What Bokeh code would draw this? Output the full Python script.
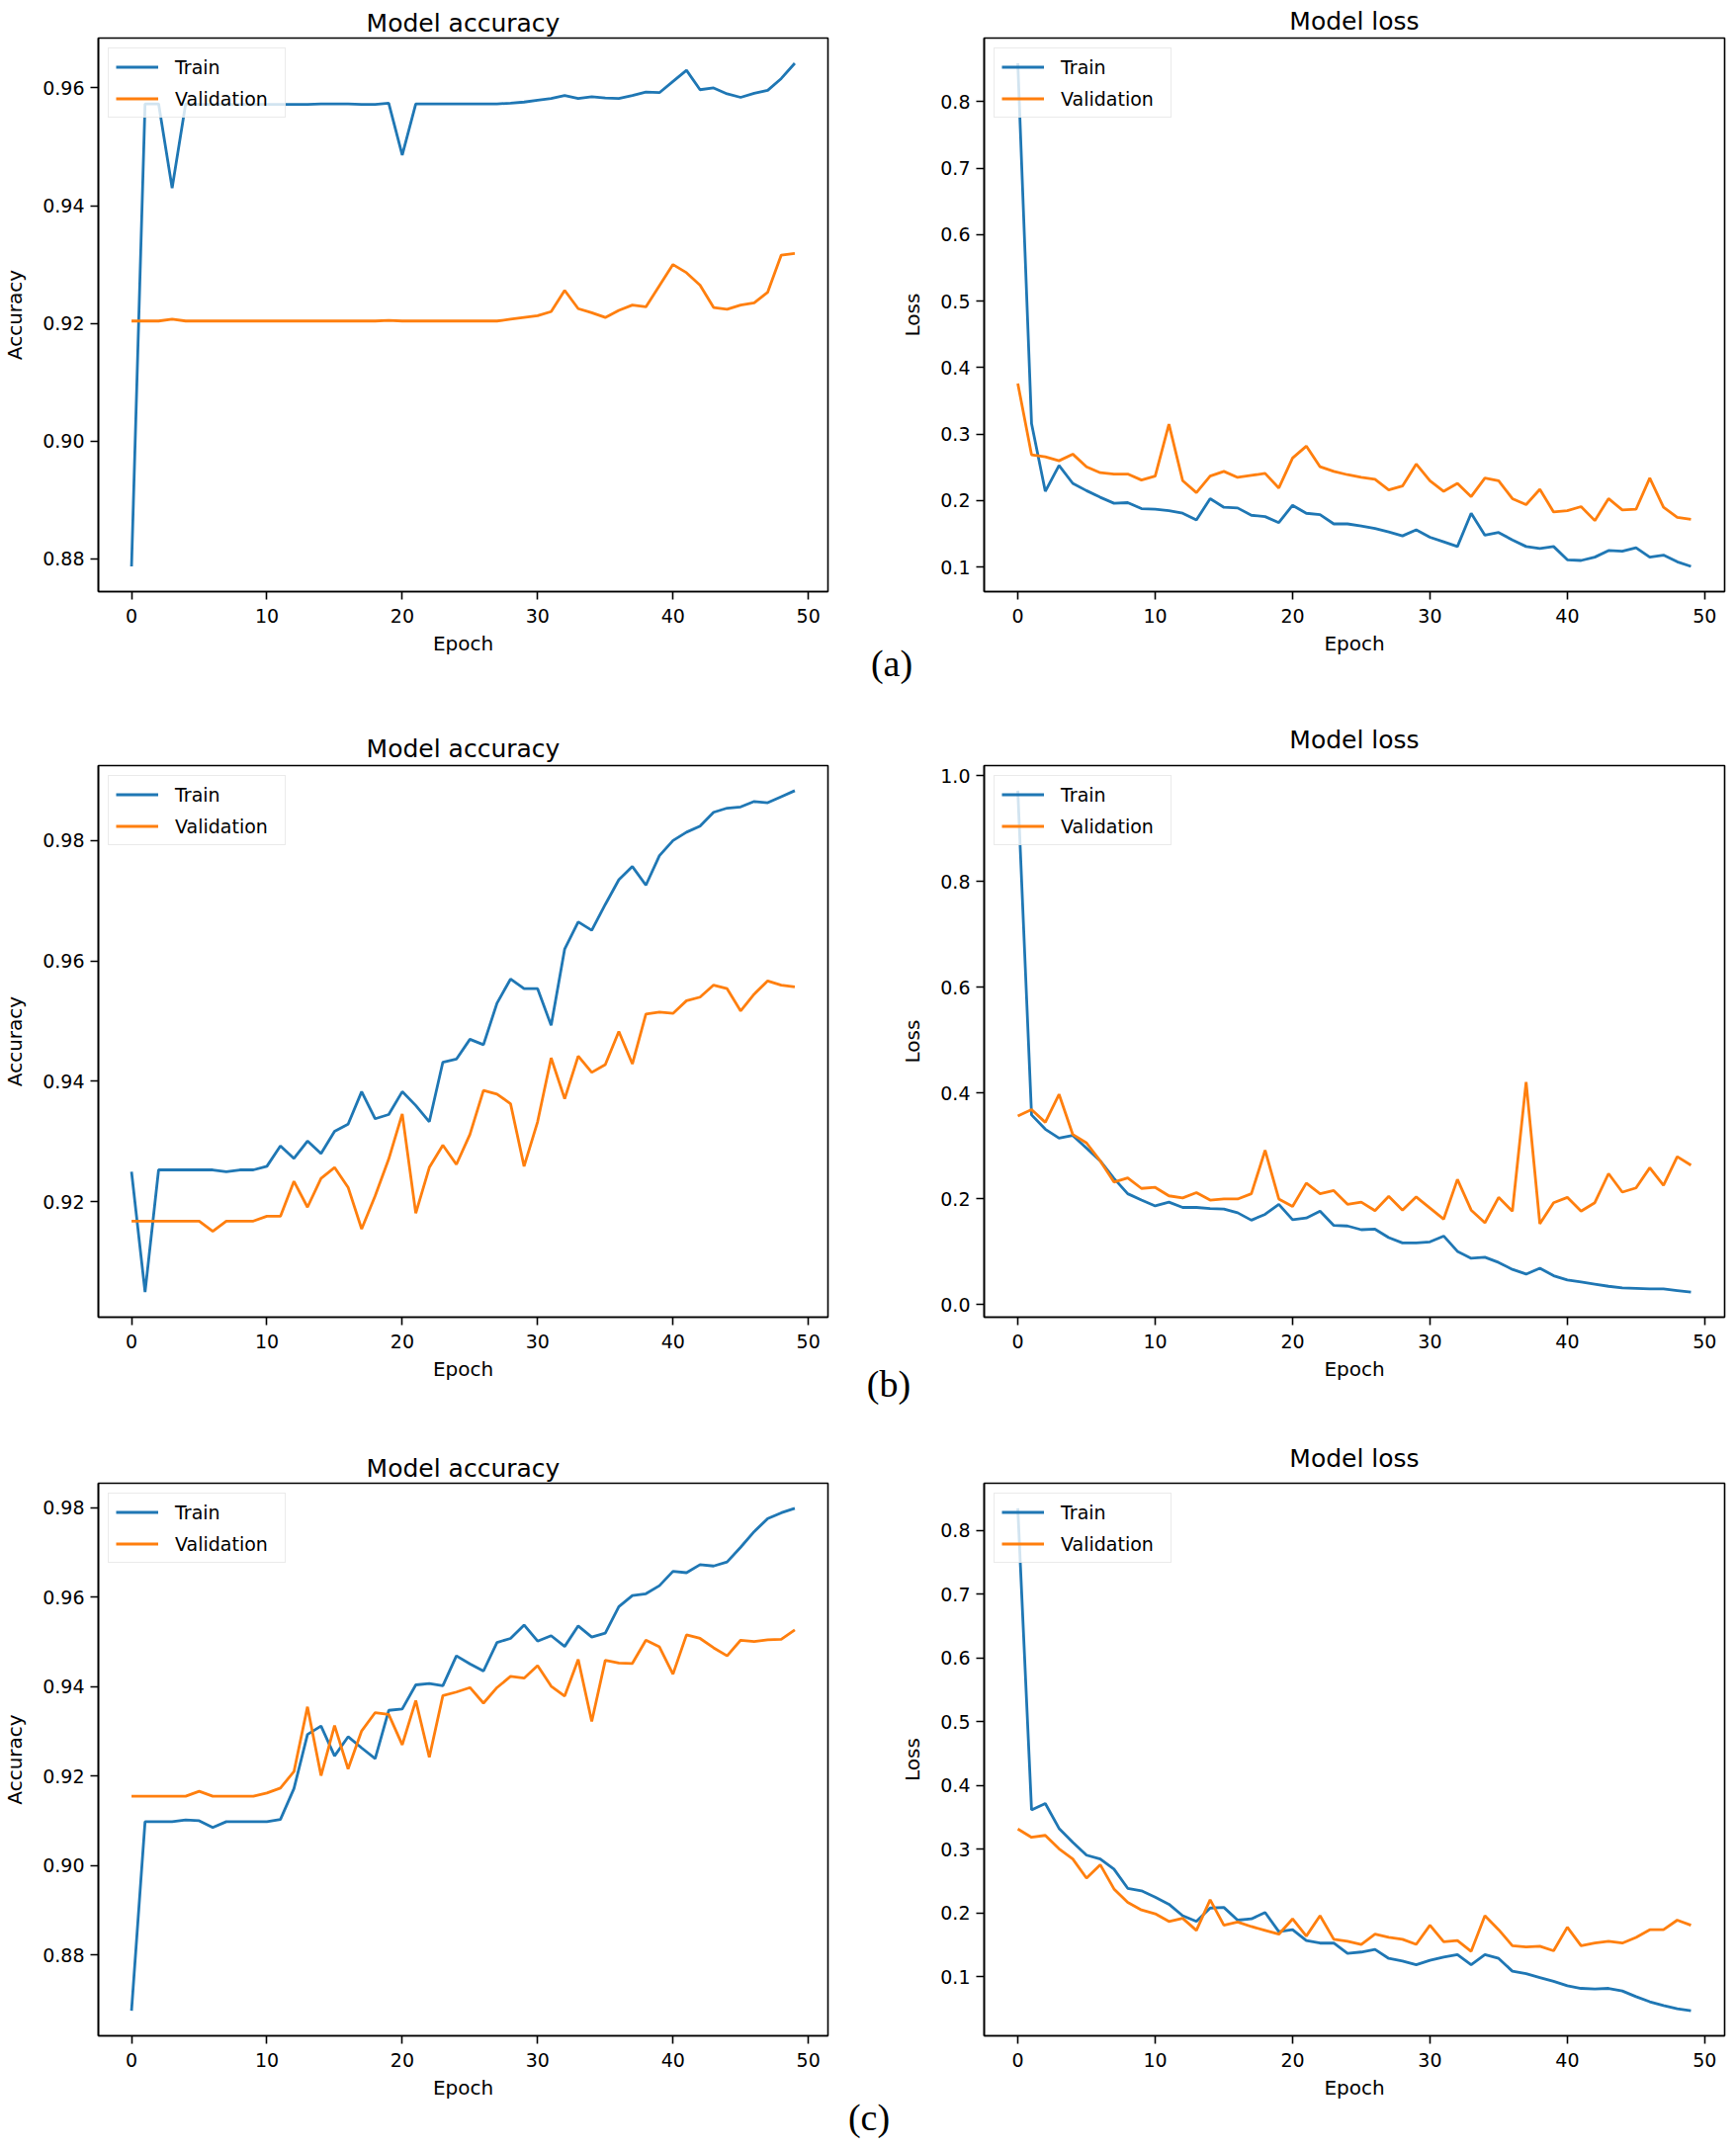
from bokeh.plotting import figure
from bokeh.layouts import row, column
from bokeh.models import Range1d, FixedTicker, NumeralTickFormatter
from bokeh.core.properties import value
from bokeh.embed import file_html
from bokeh.resources import INLINE

epochs = list(range(50))
x_ticks = [0, 10, 20, 30, 40, 50]

# ---- (a) ----
a_acc_train = [0.8787, 0.9573, 0.9573, 0.9430, 0.9573, 0.9572, 0.9572, 0.9572, 0.9572, 0.9572,
               0.9572, 0.9572, 0.9572, 0.9572, 0.9573, 0.9573, 0.9573, 0.9572, 0.9572, 0.9574,
               0.9486, 0.9573, 0.9573, 0.9573, 0.9573, 0.9573, 0.9573, 0.9573, 0.9574, 0.9576,
               0.9579, 0.9582, 0.9587, 0.9582, 0.9585, 0.9583, 0.9582, 0.9587, 0.9593, 0.9592,
               0.9611, 0.9630, 0.9597, 0.9600, 0.9590, 0.9584, 0.9591, 0.9596, 0.9616, 0.9642]
a_acc_val = [0.9204, 0.9204, 0.9204, 0.9207, 0.9204, 0.9204, 0.9204, 0.9204, 0.9204, 0.9204,
             0.9204, 0.9204, 0.9204, 0.9204, 0.9204, 0.9204, 0.9204, 0.9204, 0.9204, 0.9205,
             0.9204, 0.9204, 0.9204, 0.9204, 0.9204, 0.9204, 0.9204, 0.9204, 0.9207, 0.9210,
             0.9213, 0.9220, 0.9256, 0.9225, 0.9218, 0.9210, 0.9222, 0.9231, 0.9228, 0.9264,
             0.9300, 0.9286, 0.9265, 0.9227, 0.9224, 0.9231, 0.9235, 0.9253, 0.9316, 0.9319]
a_loss_train = [0.858, 0.316, 0.214, 0.253, 0.226, 0.215, 0.205, 0.196, 0.197, 0.188,
                0.187, 0.185, 0.181, 0.171, 0.203, 0.190, 0.189, 0.178, 0.176, 0.167,
                0.193, 0.181, 0.179, 0.165, 0.165, 0.162, 0.158, 0.153, 0.147, 0.156,
                0.145, 0.138, 0.131, 0.181, 0.148, 0.152, 0.141, 0.131, 0.128, 0.131,
                0.111, 0.110, 0.115, 0.125, 0.124, 0.129, 0.115, 0.118, 0.108, 0.101]
a_loss_val = [0.376, 0.269, 0.266, 0.260, 0.270, 0.251, 0.242, 0.240, 0.240, 0.231,
              0.237, 0.315, 0.230, 0.212, 0.237, 0.244, 0.235, 0.238, 0.241, 0.219,
              0.264, 0.282, 0.251, 0.244, 0.239, 0.235, 0.232, 0.216, 0.222, 0.255,
              0.230, 0.214, 0.226, 0.206, 0.234, 0.230, 0.203, 0.194, 0.217, 0.183,
              0.185, 0.191, 0.170, 0.203, 0.186, 0.187, 0.234, 0.190, 0.175, 0.172]

# ---- (b) ----
b_acc_train = [0.9250, 0.9050, 0.9253, 0.9253, 0.9253, 0.9253, 0.9253, 0.9250, 0.9253, 0.9253,
               0.9259, 0.9293, 0.9272, 0.9301, 0.9280, 0.9317, 0.9329, 0.9383, 0.9338, 0.9345,
               0.9383, 0.9360, 0.9333, 0.9432, 0.9437, 0.9470, 0.9461, 0.9530, 0.9570, 0.9554,
               0.9554, 0.9493, 0.9620, 0.9665, 0.9651, 0.9694, 0.9735, 0.9757, 0.9726, 0.9775,
               0.9800, 0.9814, 0.9824, 0.9847, 0.9854, 0.9856, 0.9865, 0.9863, 0.9873, 0.9883]
b_acc_val = [0.9168, 0.9168, 0.9168, 0.9168, 0.9168, 0.9168, 0.9151, 0.9168, 0.9168, 0.9168,
             0.9176, 0.9176, 0.9234, 0.9191, 0.9239, 0.9257, 0.9224, 0.9155, 0.9210, 0.9271,
             0.9346, 0.9181, 0.9257, 0.9294, 0.9262, 0.9312, 0.9385, 0.9379, 0.9363, 0.9259,
             0.9333, 0.9439, 0.9371, 0.9442, 0.9415, 0.9428, 0.9483, 0.9429, 0.9512, 0.9515,
             0.9513, 0.9534, 0.9540, 0.9560, 0.9554, 0.9517, 0.9545, 0.9567, 0.9560, 0.9557]
b_loss_train = [0.972, 0.359, 0.332, 0.315, 0.320, 0.296, 0.272, 0.239, 0.210, 0.198,
                0.187, 0.194, 0.184, 0.184, 0.182, 0.181, 0.174, 0.160, 0.171, 0.190,
                0.161, 0.164, 0.177, 0.150, 0.149, 0.142, 0.143, 0.127, 0.117, 0.117,
                0.119, 0.130, 0.101, 0.088, 0.090, 0.080, 0.067, 0.058, 0.069, 0.055,
                0.047, 0.043, 0.039, 0.035, 0.032, 0.031, 0.030, 0.030, 0.027, 0.024]
b_loss_val = [0.357, 0.369, 0.345, 0.398, 0.322, 0.306, 0.272, 0.232, 0.240, 0.220,
              0.222, 0.206, 0.202, 0.212, 0.198, 0.200, 0.200, 0.210, 0.292, 0.200,
              0.186, 0.230, 0.210, 0.216, 0.190, 0.194, 0.178, 0.205, 0.179, 0.204,
              0.183, 0.162, 0.237, 0.179, 0.155, 0.203, 0.177, 0.421, 0.153, 0.193,
              0.203, 0.177, 0.193, 0.248, 0.213, 0.221, 0.259, 0.226, 0.280, 0.264]

# ---- (c) ----
c_acc_train = [0.8675, 0.9098, 0.9098, 0.9098, 0.9102, 0.9100, 0.9085, 0.9098, 0.9098, 0.9098,
               0.9098, 0.9103, 0.9172, 0.9293, 0.9312, 0.9245, 0.9288, 0.9263, 0.9239, 0.9347,
               0.9350, 0.9404, 0.9407, 0.9402, 0.9469, 0.9451, 0.9435, 0.9499, 0.9508, 0.9538,
               0.9502, 0.9514, 0.9490, 0.9536, 0.9511, 0.9520, 0.9579, 0.9604, 0.9608, 0.9626,
               0.9658, 0.9655, 0.9673, 0.9670, 0.9679, 0.9712, 0.9747, 0.9776, 0.9789, 0.9799]
c_acc_val = [0.9155, 0.9155, 0.9155, 0.9155, 0.9155, 0.9166, 0.9155, 0.9155, 0.9155, 0.9155,
             0.9162, 0.9173, 0.9210, 0.9355, 0.9201, 0.9313, 0.9216, 0.9301, 0.9342, 0.9338,
             0.9270, 0.9369, 0.9242, 0.9380, 0.9388, 0.9398, 0.9363, 0.9398, 0.9423, 0.9419,
             0.9447, 0.9401, 0.9379, 0.9461, 0.9322, 0.9459, 0.9453, 0.9452, 0.9504, 0.9489,
             0.9428, 0.9516, 0.9508, 0.9487, 0.9469, 0.9504, 0.9501, 0.9505, 0.9506, 0.9527]
c_loss_train = [0.835, 0.362, 0.372, 0.333, 0.311, 0.291, 0.285, 0.269, 0.239, 0.235,
                0.225, 0.214, 0.196, 0.187, 0.208, 0.209, 0.189, 0.191, 0.201, 0.171,
                0.174, 0.157, 0.153, 0.153, 0.137, 0.139, 0.143, 0.129, 0.125, 0.119,
                0.126, 0.131, 0.135, 0.119, 0.135, 0.129, 0.109, 0.105, 0.099, 0.093,
                0.086, 0.082, 0.081, 0.082, 0.078, 0.069, 0.061, 0.055, 0.050, 0.047]
c_loss_val = [0.332, 0.319, 0.322, 0.301, 0.285, 0.255, 0.276, 0.238, 0.217, 0.205,
              0.199, 0.187, 0.192, 0.173, 0.221, 0.181, 0.186, 0.179, 0.173, 0.167,
              0.191, 0.164, 0.196, 0.159, 0.156, 0.151, 0.167, 0.162, 0.159, 0.151,
              0.181, 0.155, 0.157, 0.140, 0.196, 0.174, 0.149, 0.147, 0.148, 0.141,
              0.178, 0.149, 0.153, 0.156, 0.153, 0.162, 0.174, 0.174, 0.189, 0.181]

acc_ticks_a = [0.88, 0.90, 0.92, 0.94, 0.96]
acc_ticks_b = [0.92, 0.94, 0.96, 0.98]
acc_ticks_c = [0.88, 0.90, 0.92, 0.94, 0.96, 0.98]
loss_ticks_a = [0.1, 0.2, 0.3, 0.4, 0.5, 0.6, 0.7, 0.8]
loss_ticks_b = [0.0, 0.2, 0.4, 0.6, 0.8, 1.0]
loss_ticks_c = [0.1, 0.2, 0.3, 0.4, 0.5, 0.6, 0.7, 0.8]

panel_tags = ["(a)", "(b)", "(c)"]

BLUE = "#1f77b4"
ORANGE = "#ff7f0e"
FONT = "DejaVu Sans"

# layout geometry (pixels)
TOTAL_W = 1748
L_BL, L_FW, L_BR = 82, 738, 40      # left column: 860 wide
R_BL, R_FW, R_BR = 118, 749, 21     # right column: 888 wide
BOTTOM = 74


def make_panel(title, ylabel, train, val, yticks, yfmt,
               bl, fw, br, bt, fh, bb, title_standoff):
    lo = min(min(train), min(val))
    hi = max(max(train), max(val))
    m = 0.05 * (hi - lo)
    xm = 0.05 * (epochs[-1] - epochs[0])
    p = figure(frame_width=fw, frame_height=fh,
               min_border_left=bl, min_border_top=bt,
               min_border_right=br, min_border_bottom=bb,
               x_range=Range1d(epochs[0] - xm, epochs[-1] + xm),
               y_range=Range1d(lo - m, hi + m),
               output_backend="svg", toolbar_location=None, title=title)
    p.title.text_font = FONT
    p.title.text_font_size = "25px"
    p.title.text_font_style = "normal"
    p.title.align = "center"
    p.title.standoff = title_standoff
    p.title.text_color = "black"

    p.line(epochs, train, line_color=BLUE, line_width=2.8, legend_label="Train")
    p.line(epochs, val, line_color=ORANGE, line_width=2.8, legend_label="Validation")

    p.xgrid.visible = False
    p.ygrid.visible = False
    p.outline_line_color = "black"
    p.outline_line_width = 1.6
    p.outline_line_alpha = 1.0
    p.background_fill_color = "white"
    p.border_fill_color = "white"

    p.xaxis.ticker = FixedTicker(ticks=x_ticks)
    p.yaxis.ticker = FixedTicker(ticks=yticks)
    p.yaxis.formatter = NumeralTickFormatter(format=yfmt)
    p.xaxis.axis_label = "Epoch"
    p.yaxis.axis_label = ylabel
    for ax in (p.xaxis[0], p.yaxis[0]):
        ax.major_label_text_font = FONT
        ax.major_label_text_font_size = "19px"
        ax.major_label_text_color = "black"
        ax.axis_label_text_font = FONT
        ax.axis_label_text_font_size = "20px"
        ax.axis_label_text_font_style = "normal"
        ax.axis_label_text_color = "black"
        ax.major_tick_out = 8
        ax.major_tick_in = 0
        ax.minor_tick_out = 0
        ax.minor_tick_in = 0
        ax.major_tick_line_width = 1.6
        ax.major_tick_line_color = "black"
        ax.axis_line_width = 1.6
        ax.axis_line_color = "black"
    p.xaxis.major_label_standoff = 9
    p.yaxis.major_label_standoff = 6
    p.xaxis.axis_label_standoff = 6
    p.yaxis.axis_label_standoff = 13

    lg = p.legend[0]
    lg.location = "top_left"
    lg.margin = 10
    lg.padding = 7
    lg.spacing = 9
    lg.label_height = 23
    lg.glyph_height = 23
    lg.glyph_width = 43
    lg.label_standoff = 17
    lg.label_width = 104
    lg.label_text_font = FONT
    lg.label_text_font_size = "19px"
    lg.label_text_color = "black"
    lg.border_line_color = "#d6d6d6"
    lg.border_line_width = 1.5
    lg.background_fill_color = "white"
    lg.background_fill_alpha = 0.8
    return p


def make_tag_row(text, height, overlap, x_center, y_center):
    # transparent strip that slides up under the row above it
    p = figure(frame_width=TOTAL_W - L_BL - R_BR, frame_height=height,
               min_border_left=L_BL, min_border_right=R_BR,
               min_border_top=0, min_border_bottom=0,
               x_range=Range1d(L_BL, TOTAL_W - R_BR), y_range=Range1d(0, height),
               x_axis_type=None, y_axis_type=None, margin=(-overlap, 0, 0, 0),
               output_backend="svg", toolbar_location=None)
    p.xgrid.visible = False
    p.ygrid.visible = False
    p.outline_line_color = None
    p.background_fill_color = None
    p.border_fill_color = None
    p.text(x=[x_center], y=[y_center], text=[text],
           text_font=value("Liberation Serif"), text_font_size=value("38px"),
           text_align="center", text_baseline="middle", text_color="black")
    return p


# row 1
pa1 = make_panel("Model accuracy", "Accuracy", a_acc_train, a_acc_val, acc_ticks_a, "0.00",
                 L_BL, L_FW, L_BR, 38, 560, BOTTOM, 1)
pa2 = make_panel("Model loss", "Loss", a_loss_train, a_loss_val, loss_ticks_a, "0.0",
                 R_BL, R_FW, R_BR, 38, 560, BOTTOM, 6)
tag_a = make_tag_row(panel_tags[0], 72, 26, 901.5, 47.5)
# row 2
pb1 = make_panel("Model accuracy", "Accuracy", b_acc_train, b_acc_val, acc_ticks_b, "0.00",
                 L_BL, L_FW, L_BR, 56, 558, BOTTOM, 5)
pb2 = make_panel("Model loss", "Loss", b_loss_train, b_loss_val, loss_ticks_b, "0.0",
                 R_BL, R_FW, R_BR, 56, 558, BOTTOM, 23)
tag_b = make_tag_row(panel_tags[1], 68, 30, 898.5, 45)
# row 3
pc1 = make_panel("Model accuracy", "Accuracy", c_acc_train, c_acc_val, acc_ticks_c, "0.00",
                 L_BL, L_FW, L_BR, 56, 559, BOTTOM, 1)
pc2 = make_panel("Model loss", "Loss", c_loss_train, c_loss_val, loss_ticks_c, "0.0",
                 R_BL, R_FW, R_BR, 56, 559, BOTTOM, 21)
tag_c = make_tag_row(panel_tags[2], 49, 17, 878.5, 24)

layout = column(row(pa1, pa2), tag_a, row(pb1, pb2), tag_b, row(pc1, pc2), tag_c)

open("out.html", "w").write(file_html(layout, INLINE, "Model accuracy and loss"))
